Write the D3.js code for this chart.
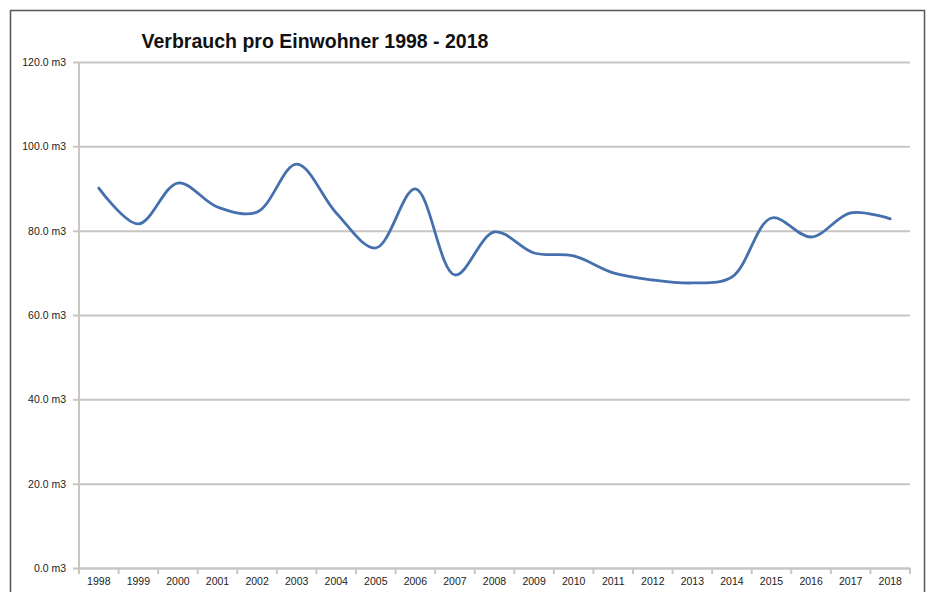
<!DOCTYPE html>
<html>
<head>
<meta charset="utf-8">
<script src="https://cdn.jsdelivr.net/npm/d3@7"></script>
<style>
  body { margin: 0; background: #fff; }
  svg { display: block; }
</style>
</head>
<body>
<div id="container"></div>
<script>
// chart data
const years = ['1998', '1999', '2000', '2001', '2002', '2003', '2004', '2005', '2006', '2007',
  '2008', '2009', '2010', '2011', '2012', '2013', '2014', '2015', '2016', '2017', '2018'];
const verbrauch = [90.1, 81.6, 91.3, 85.6, 84.4, 95.8, 84.2, 75.9, 89.9, 69.5,
  79.7, 74.7, 74.0, 70.0, 68.3, 67.6, 69.0, 83.0, 78.5, 84.2, 82.8];
const yTicks = [0, 20, 40, 60, 80, 100, 120];

const W = 929, H = 592;
const margin = { top: 62, right: 19, bottom: 24, left: 79 };
const width = W - margin.left - margin.right;
const height = H - margin.top - margin.bottom;

const svg = d3.select('#container')
  .append('svg')
  .attr('width', W)
  .attr('height', H);

// outer frame
svg.append('rect')
  .attr('x', 10.5).attr('y', 10.5)
  .attr('width', 914).attr('height', 600)
  .attr('fill', 'none')
  .attr('stroke', '#555')
  .attr('stroke-width', 1.5);

// title
svg.append('text')
  .attr('x', 315).attr('y', 48)
  .attr('text-anchor', 'middle')
  .attr('font-family', 'Liberation Sans, Arial, sans-serif')
  .attr('font-weight', 'bold')
  .attr('font-size', 19.5)
  .attr('fill', '#111')
  .text('Verbrauch pro Einwohner 1998 - 2018');

const g = svg.append('g')
  .attr('transform', `translate(${margin.left},${margin.top})`);

// scales
const x = d3.scaleBand().domain(years).range([0, width]);
const y = d3.scaleLinear().domain([0, 120]).range([height, 0]);

const labelFont = 'Liberation Sans Narrow, Liberation Sans, sans-serif';

// gridlines + y axis
const yAxis = d3.axisLeft(y)
  .tickValues(yTicks)
  .tickSize(-width)
  .tickPadding(13)
  .tickFormat(d => d3.format('.1f')(d) + ' m3');

g.append('g')
  .attr('class', 'y-axis')
  .call(yAxis)
  .call(s => s.select('.domain').remove())
  .call(s => s.selectAll('.tick line')
    .attr('stroke', '#c9c6c2')
    .attr('stroke-width', 2)
    .attr('x1', -6))
  .call(s => s.selectAll('.tick text')
    .attr('font-family', labelFont)
    .attr('font-size', 10.5)
    .attr('fill', '#222'));

// y axis line
g.append('line')
  .attr('x1', 0).attr('x2', 0)
  .attr('y1', 0).attr('y2', height)
  .attr('stroke', '#c9c6c2')
  .attr('stroke-width', 2);

// x axis
const xAxis = d3.axisBottom(x).tickSize(0).tickPadding(10);
const xg = g.append('g')
  .attr('transform', `translate(0,${height})`)
  .call(xAxis);
xg.select('.domain').attr('stroke', '#c9c6c2').attr('stroke-width', 2);
xg.selectAll('.tick text')
  .attr('font-family', labelFont)
  .attr('font-size', 10.5)
  .attr('fill', '#222');

// category boundary ticks
xg.selectAll('.sep')
  .data(d3.range(years.length + 1))
  .join('line')
  .attr('class', 'sep')
  .attr('x1', i => i * x.step()).attr('x2', i => i * x.step())
  .attr('y1', 0).attr('y2', 6)
  .attr('stroke', '#c9c6c2')
  .attr('stroke-width', 2);

// smoothed line
const line = d3.line()
  .x((d, i) => x(years[i]) + x.bandwidth() / 2)
  .y(d => y(d))
  .curve(d3.curveCatmullRom.alpha(0.5));

g.append('path')
  .datum(verbrauch)
  .attr('d', line)
  .attr('fill', 'none')
  .attr('stroke', '#4570ad')
  .attr('stroke-width', 2.8)
  .attr('stroke-linecap', 'round');
</script>
</body>
</html>
